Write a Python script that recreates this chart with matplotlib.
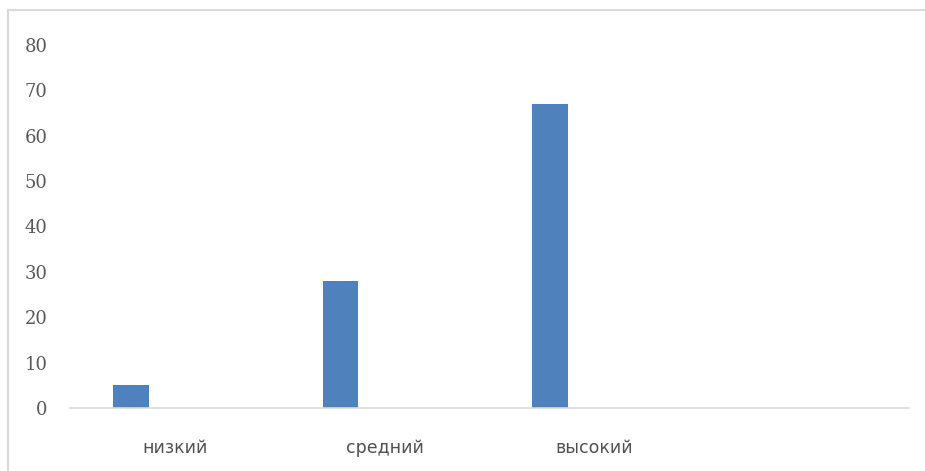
import matplotlib
matplotlib.use('Agg')
import matplotlib.pyplot as plt
from matplotlib.lines import Line2D

categories = ["низкий", "средний", "высокий", ""]
values = [5, 28, 67, 0]
y_ticks = [0, 10, 20, 30, 40, 50, 60, 70, 80]

bar_color = "#4f81bd"
text_color = "#595959"

fig = plt.figure(figsize=(9.25, 4.71), dpi=100, facecolor='white')

# outer chart frame: only top and left edges are visible in the crop
frame_top = (471 - 10) / 471
frame_left = 8 / 925
fig.add_artist(Line2D([frame_left, 1.0], [frame_top, frame_top],
                      transform=fig.transFigure, color="#d9d9d9", linewidth=1.5))
fig.add_artist(Line2D([frame_left, frame_left], [0.0, frame_top],
                      transform=fig.transFigure, color="#d9d9d9", linewidth=1.5))

ax = fig.add_axes([70 / 925, 63 / 471, 839 / 925, 363 / 471])

x = list(range(len(categories)))
ax.bar([i - 0.21 for i in x[:3]], values[:3], width=0.17, color=bar_color)

ax.set_xlim(-0.5, len(categories) - 0.5)
ax.set_ylim(0, 80)
ax.set_yticks(y_ticks)
ax.set_yticklabels([str(t) for t in y_ticks], family='DejaVu Serif',
                   fontsize=13, color=text_color)
ax.set_xticks(x)
ax.set_xticklabels(categories, family='DejaVu Sans', fontsize=12.5,
                   color="#505050")

for side in ['top', 'right', 'left']:
    ax.spines[side].set_visible(False)
ax.spines['bottom'].set_color("#d9d9d9")
ax.spines['bottom'].set_linewidth(1.2)
ax.tick_params(axis='both', length=0)
ax.tick_params(axis='y', pad=16)
ax.tick_params(axis='x', pad=22)

fig.savefig("out.png", dpi=100, facecolor='white')
plt.close(fig)
